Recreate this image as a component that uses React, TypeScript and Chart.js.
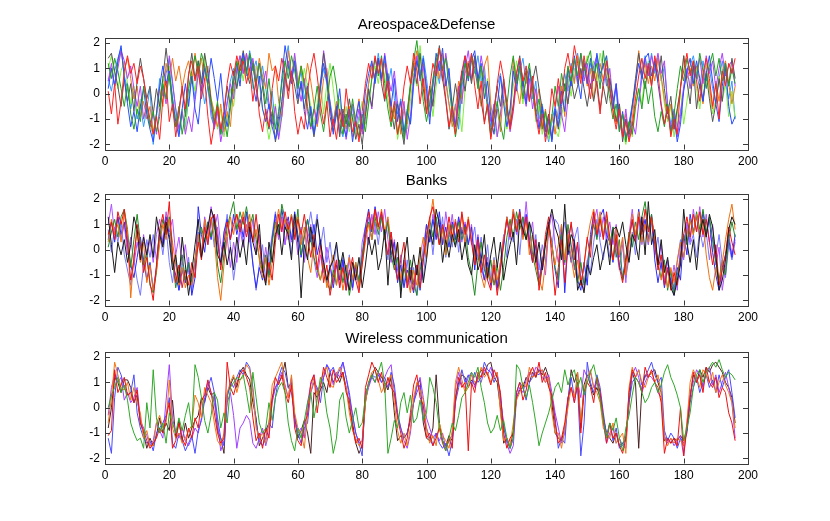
import React, { useEffect, useRef } from "react";
import { Chart, registerables } from "chart.js";

Chart.register(...registerables);

// axis ticks (same for all three panels)
const xTicks = [0, 20, 40, 60, 80, 100, 120, 140, 160, 180, 200];
const yTicks = [-2, -1, 0, 1, 2];

// ---------- Areospace&Defense (x = 1..196) ----------
const aeroRed = [
  0.1, -0.8, 0.4, -1.2, -0.3, 0.9, 1.5, 0.8, 1.2, 0.4, 1.1, 0.6, -0.3, -1.0,
  -1.6, -0.9, -1.8, -0.2, 0.5, -1.1, -0.4, -1.7, -0.8, 0.3, -0.6, 0.8, 1.3, 0.5,
  1.1, -0.2, 0.6, -0.9, -2.0, -1.2, -0.5, -1.4, -0.7, 0.4, 1.2, 0.7, 1.5, 0.9,
  1.3, 0.4, 1.0, -0.3, 0.6, -0.8, -1.5, -0.6, -1.3, 0.2, 1.1, 0.5, 1.4, 0.8,
  -0.2, 0.9, -0.7, -1.6, -0.9, -1.4, 0.1, 1.0, 1.6, 0.7, -0.4, -1.2, -0.3, -1.7,
  -1.0, -1.8, -0.6, -1.3, 0.2, -0.8, -1.5, -1.1, -1.9, -0.7, 0.4, 1.2, 0.6, 1.5,
  0.8, 1.4, -0.2, 0.5, -1.1, -0.3, -1.6, -0.9, 0.3, 1.1, 0.4, 1.6, 0.9, -0.4,
  0.6, -0.8, 0.2, 1.2, 0.7, 1.8, 1.0, -0.2, -1.3, -0.5, -1.6, 0.1, 0.9, 1.5,
  0.7, 1.6, 0.3, -0.6, 0.5, -1.2, -0.4, -1.8, -0.9, 0.4, 1.3, 0.6, -0.5, -1.4,
  -0.6, 0.8, 1.4, 0.5, 1.1, -0.3, 0.7, -0.9, -1.6, -0.8, -1.9, -1.1, 0.2, -0.5,
  0.6, -0.4, 1.0, 1.6, 0.8, 1.9, 1.2, 0.4, 1.5, 0.7, -0.2, 0.9, 0.3, -0.8,
  0.5, 1.3, 0.2, -0.7, -1.4, -0.6, -1.7, -1.1, -1.9, -1.3, -0.2, 0.7, 1.4, 0.6,
  1.2, 0.3, 1.5, 0.8, -0.4, -1.2, -0.5, -1.7, -1.0, -1.6, 0.3, 0.9, 1.6, 0.7,
  1.3, 0.5, -0.3, 0.8, 1.4, 0.6, -0.5, 0.4, -1.0, 0.9, 0.3, 1.2, 0.8, 1.4,
];
const aeroGreen = [
  1.2, 0.6, 1.4, 0.9, 0.2, -0.5, 0.4, -0.8, -1.4, -0.6, -1.1, 0.3, -0.4, -1.3,
  -0.7, -1.5, -0.9, 0.4, -0.2, 0.8, -0.6, -1.3, -0.5, -1.6, -0.8, 0.2, 0.9, 1.5,
  0.8, 1.6, 1.1, 0.3, -0.4, -1.1, -0.3, -1.6, -0.9, -1.7, -0.6, 0.5, 1.3, 0.6,
  1.4, 0.8, 1.6, 1.1, 0.3, 1.2, 0.5, -0.4, 0.6, -0.6, -1.4, -0.7, 0.4, 1.3,
  0.6, 1.5, 0.9, 0.2, 1.1, 0.4, -0.5, -1.3, -0.6, 0.3, -0.8, -1.5, -0.4, 0.7,
  1.1, 0.3, -0.9, -1.6, -0.8, -1.3, -0.2, -1.1, -1.7, -0.8, -1.5, -0.4, 0.6, 1.4,
  0.7, 1.5, 0.4, -0.6, -1.3, -0.5, -1.6, -0.9, -1.8, -0.7, 0.4, 1.3, 2.1, 0.9,
  -0.3, -1.1, -0.4, 0.6, 1.3, 1.8, 0.9, 1.4, 0.3, -0.8, -1.7, -0.9, 0.5, 1.2,
  0.6, 1.5, 1.0, 0.2, 1.1, 0.4, -0.6, -1.7, -1.0, -0.3, -1.2, -1.8, -0.5, 0.7,
  1.5, 0.4, 1.1, -0.2, 0.6, 1.2, 0.1, -0.8, -0.2, -1.4, -0.7, -1.6, -0.9, 0.3,
  -0.5, 0.8, 0.1, 1.1, 0.5, 1.4, 0.7, 1.6, 0.9, 1.3, 1.7, 0.6, 1.2, 0.2,
  1.7, 0.6, -0.2, -1.0, -0.4, -1.5, -0.8, -1.9, -1.1, -1.6, -0.5, 0.2, -0.6, 0.5,
  -0.4, 0.3, -0.9, -1.5, -0.7, -1.3, -0.4, -1.6, -0.8, 0.2, 1.1, 0.5, 1.4, 0.8,
  1.3, 0.6, 1.6, 0.9, 0.2, 1.1, 1.6, 0.7, 1.4, 0.5, 1.2, 0.3, 1.0, 0.4,
];
const aeroBlue = [
  0.2, 1.0, 0.3, 1.3, 1.9, 0.6, -0.4, -1.3, -0.7, -1.5, -0.5, 0.2, -0.8, -1.4,
  -1.9, -0.8, 0.3, 1.1, 0.4, 0.9, -0.2, -1.1, -1.7, -0.6, 0.4, -0.5, 0.7, -0.6,
  -1.2, 0.2, 1.0, 0.4, 1.4, 0.6, -0.3, 0.8, -0.6, -1.3, -0.4, 0.5, 1.2, 0.3,
  1.6, 0.9, 1.5, 0.4, -0.3, 0.7, -0.6, -1.1, -0.4, -1.3, -1.8, -0.9, 0.6, 1.9,
  1.1, 0.4, 1.3, -0.2, 0.5, -0.7, -1.4, -0.5, -1.6, -0.8, 0.3, 1.2, 0.5, -0.4,
  -1.6, -0.8, 0.2, -1.2, -1.7, -0.6, -1.9, -1.0, -0.3, -1.4, 0.1, 0.8, 1.3, 0.4,
  1.4, 0.6, 1.5, 0.2, -0.5, 0.6, -1.1, -0.3, -1.6, -0.7, -1.2, 0.5, 1.3, 0.6,
  1.4, 0.2, -1.2, 0.4, 1.6, 0.9, 1.8, 0.3, 1.0, -0.6, -1.3, -0.4, 0.7, 1.5,
  0.5, 1.3, 1.7, 0.6, 1.2, -0.2, 0.5, -0.9, -1.6, -0.5, 0.7, -0.4, -1.3, -0.6,
  0.9, 0.1, 1.3, 0.5, -0.4, 1.0, 0.2, -0.7, -1.4, -0.5, -1.7, -1.0, -1.9, -0.6,
  -1.3, 0.1, -0.7, 1.0, 0.3, 1.5, 0.6, -0.2, 1.2, 0.4, 1.4, 0.5, 1.6, 0.8,
  1.1, 1.5, 0.2, -0.6, 0.4, -1.5, -0.7, -1.8, -1.2, -0.5, 0.4, 1.2, 0.6, 1.4,
  1.6, 0.7, 1.3, 0.4, -0.5, -1.2, -0.6, -1.5, -0.9, -1.9, -1.2, 0.1, 0.9, 1.4,
  0.4, 1.3, 0.6, -0.3, 0.8, 1.5, 0.5, -0.4, -1.1, 0.3, 1.2, -0.5, -1.2, -0.9,
];
const aeroGray = [
  1.4, 1.6, 0.9, 0.3, -0.5, 0.6, -0.3, 0.4, -0.7, 0.5, 1.4, 0.6, -0.2, 0.3,
  -0.8, 0.2, -0.5, 0.6, 1.8, 0.7, -0.4, -1.3, -0.6, 0.2, -0.9, 0.7, 1.6, 0.6,
  1.3, 0.4, 1.6, 0.8, -0.3, -1.2, -0.4, -1.5, -0.8, 0.3, -0.5, 0.9, 0.2, 1.0,
  1.7, 0.9, 0.4, 1.2, 0.2, -0.5, 0.3, -0.8, -1.4, -0.7, -1.9, -1.2, -0.3, 0.8,
  0.1, 0.9, 0.3, -0.4, 0.4, -0.6, 0.3, -0.9, -1.7, -0.8, 0.4, 1.6, 0.6, -0.9,
  -1.5, -0.5, -1.7, -0.6, -1.2, -0.2, -1.0, -1.8, -1.2, -2.0, -0.9, 0.2, -0.5, 0.7,
  1.4, 0.4, -0.3, 0.8, -0.6, -1.4, -0.4, -1.2, -2.0, -0.8, 0.3, 1.2, 0.4, 1.6,
  0.2, -0.8, 0.3, -0.5, 0.9, 1.9, 0.6, -0.3, -1.4, -0.6, 0.4, -0.4, 0.9, 0.1,
  1.2, 0.4, 1.5, 0.6, -0.3, -1.1, -0.4, -1.6, -0.6, 0.3, -0.5, 0.6, -0.4, -1.3,
  -0.4, 0.8, 1.5, 0.3, 0.9, -0.3, 0.5, 1.1, 0.2, -0.6, -1.5, -0.8, -1.8, -0.7,
  -1.4, -0.5, 0.4, -0.4, 0.6, -0.2, 0.3, 1.0, 0.2, -0.5, 0.4, -0.3, 0.5, -0.6,
  0.3, -0.4, 0.6, -0.2, -1.1, -0.4, -1.9, -1.0, -1.6, -0.5, 0.6, 1.6, 0.8, 0.2,
  1.1, 0.3, 1.3, 0.5, 1.5, 0.2, -0.8, -0.1, -1.4, -0.6, 0.2, 1.5, 0.5, -0.4,
  1.1, -0.6, 0.4, -0.3, 0.8, -0.2, -1.1, -0.4, 0.6, -0.3, 1.0, 0.3, 1.4, 0.6,
];
const aeroViolet = [
  0.5, 1.2, 0.3, 1.0, 1.7, 1.3, 0.6, 1.1, 0.2, -0.5, 0.3, -1.0, -0.4, -1.3,
  -0.8, -1.6, -0.6, 0.3, -0.4, 1.5, 0.5, -0.6, -1.4, -0.7, -1.6, -0.9, -1.5, -0.3,
  0.8, 0.1, 1.1, 0.3, -0.6, -1.4, -0.7, -1.9, -1.2, -0.4, 0.4, -0.2, 1.0, 1.5,
  0.8, 1.6, 0.9, 1.4, 0.5, 1.2, 0.3, 0.9, -0.4, -1.2, -0.5, -1.8, -0.9, 0.5,
  1.3, 0.6, 1.6, 0.4, -0.3, 0.6, -0.7, -1.4, -0.6, -1.2, 0.2, 1.7, 0.8, -0.6,
  -1.3, -0.6, -1.5, -0.8, -1.8, -1.0, -0.4, -1.3, -0.6, -1.6, -0.8, 0.1, -0.6, 0.8,
  1.3, 0.5, 1.6, 0.7, 0.1, 0.9, -0.4, -1.2, -0.3, -1.8, -0.9, 0.6, 1.5, 0.5,
  1.1, 0.2, -0.9, -0.2, 0.7, 1.3, 0.5, 1.6, 0.6, -0.5, -1.2, 0.3, -0.4, 1.0,
  1.7, 0.6, 1.3, 0.4, 1.5, 0.7, -0.3, -1.1, -0.4, -1.7, -0.8, 0.4, -0.5, -1.5,
  -0.7, 0.5, 1.1, 0.2, -0.5, 0.6, -0.6, 0.2, -1.3, -0.5, -1.4, -0.8, -1.8, -0.6,
  0.3, -0.8, -1.5, -0.2, 0.6, 1.3, 0.4, 1.6, 0.5, 1.2, 0.2, 1.1, 1.5, 0.6,
  1.2, 0.3, 1.0, -0.3, 0.4, -0.8, -1.6, -0.6, -1.8, -1.1, -1.6, -0.4, 0.6, 1.4,
  0.7, 1.5, 0.9, 1.6, 0.8, 1.3, -0.5, -1.4, -0.7, -1.7, -0.9, 0.3, 1.0, 0.2,
  1.2, 0.6, 1.4, 0.4, 1.5, 0.8, 1.3, 0.2, 1.0, 1.6, 0.7, 1.1, 1.3, 0.3,
];
const aeroOrange = [
  0.5, 1.0, 0.3, 1.2, 1.7, 0.9, 1.4, 0.6, -0.2, 0.3, -0.9, -0.3, -1.0, -0.5,
  -1.5, -0.8, 0.2, -0.5, 1.2, 0.6, 1.4, 0.5, 1.1, 0.2, 0.9, 1.3, 0.4, 1.6,
  0.7, 1.4, 0.5, 1.1, -0.2, -0.8, -1.3, -0.4, -1.5, -0.7, -1.3, 0.2, 0.9, 1.5,
  0.8, 1.6, 0.6, 1.3, 0.5, 1.4, 0.7, 0.2, 1.6, 0.9, 1.1, -0.3, -0.9, 0.4,
  1.7, 0.8, 1.3, 0.4, 1.1, 0.3, 1.2, 0.5, -0.4, -1.3, -0.5, 0.6, 1.0, -0.4,
  -1.2, -0.3, -1.6, -0.8, -1.4, -0.5, -1.7, -0.9, -0.2, -1.5, -0.5, 0.4, 1.1, 0.5,
  1.4, 0.6, 1.2, 0.2, -0.5, -1.0, -0.3, -1.6, -0.6, -1.2, 0.2, 1.0, 1.7, 0.8,
  1.2, -0.3, -0.9, 0.5, 1.4, 0.6, 1.6, 0.4, -0.4, -1.3, -0.6, 0.5, -0.2, 0.8,
  1.3, 0.5, 1.5, 0.3, -0.5, 1.1, 1.5, -0.4, -1.3, -0.6, -1.5, 0.4, -0.7, -1.4,
  1.4, 0.3, -0.4, 0.6, -0.2, 1.0, 0.3, -0.5, 0.2, -1.3, -0.6, -1.6, -0.8, -1.6,
  -0.6, 0.3, -0.9, 0.6, 1.1, 0.4, 1.5, 0.6, 1.2, 0.3, 1.0, -0.2, 0.8, 1.2,
  0.5, 1.3, 0.2, -0.6, -1.2, -0.5, -1.6, -0.8, -1.7, -1.0, 0.3, 1.7, 0.6, 1.2,
  0.4, 1.1, 0.5, 1.4, 0.7, -0.2, -1.0, -0.4, -1.4, -0.6, 0.2, 1.5, 0.6, 1.0,
  0.3, 1.1, 0.5, -0.4, 0.9, 0.3, -0.6, 0.5, -0.3, 0.9, 1.3, 0.4, -0.4, 0.3,
];
const aeroLime = [
  1.0, 1.5, 0.8, 0.2, 0.9, 1.3, 0.4, -0.4, 0.3, -0.8, -0.2, -1.0, -0.5, -1.3,
  -1.6, -0.9, -0.3, 0.7, -0.2, 1.1, -0.1, -0.9, -1.4, -0.6, -1.5, 0.2, 0.8, 0.1,
  1.0, 0.3, 1.5, 0.6, -0.2, -0.7, -1.4, -0.6, -1.7, -1.0, 0.2, -0.5, 0.7, 1.3,
  0.5, 1.4, 1.0, 0.2, 1.1, 0.4, -0.6, -1.0, -1.8, -1.1, -0.4, -1.5, -0.8, 0.3,
  1.2, 0.4, 1.5, 0.7, 0.2, 1.0, 0.3, -0.5, -1.2, -0.4, 0.5, -0.8, 0.4, 1.2,
  0.2, -0.9, -0.2, -1.3, -0.5, -1.5, -0.8, -1.6, -1.0, -0.3, -1.2, -0.4, 0.6, 1.1,
  0.4, 1.3, 0.7, -0.2, -1.1, -0.4, -1.8, -1.0, -0.5, -1.4, -0.3, 0.8, 0.3, 1.9,
  0.6, -0.6, 0.2, -0.9, 0.3, 1.2, 0.5, 1.5, 0.8, -0.3, -1.2, -0.5, -1.5, 0.2,
  1.2, 0.5, 1.4, 0.4, 0.9, -0.2, 0.6, -0.7, -1.2, -1.7, -0.8, -0.2, -1.4, -0.6,
  0.3, 1.3, 0.5, -0.4, 0.8, -0.3, 0.4, -1.1, -0.5, -1.6, -0.8, -1.8, -0.9, -1.4,
  -1.7, -0.9, -0.2, 0.6, -0.1, 1.0, 0.4, 1.4, 0.7, 1.5, 0.8, 1.3, 0.5, 1.6,
  1.0, 1.5, 0.6, -0.2, -1.0, -0.4, -1.5, -2.0, -1.1, -1.7, -0.6, 0.2, -0.4, 0.8,
  1.3, 0.5, 1.2, 1.5, 0.6, -0.4, -1.1, -0.5, -1.7, -0.8, 0.1, -1.2, -0.3, 0.6,
  1.0, 0.2, -0.6, 0.5, 1.2, 0.1, -0.8, -0.2, 0.7, -0.3, 0.4, -0.9, 0.1, -1.0,
];
const aeroSky = [
  0.6, 0.1, 0.9, 1.4, 1.8, 0.7, 0.2, -0.6, 0.1, -1.0, -0.4, -1.3, -0.6, 0.2,
  -2.0, -0.8, 0.6, -0.1, 0.8, 1.4, 0.4, -0.6, -1.6, -0.8, -1.3, -0.2, 0.7, -0.2,
  1.3, 0.5, -0.4, 0.3, -0.9, -1.3, -0.6, -1.6, -1.1, -0.3, 0.5, 1.0, 0.3, 1.2,
  1.5, 0.7, 1.7, 0.9, 1.3, 0.4, 1.1, 0.2, -0.6, 0.1, -1.3, -1.7, -0.4, 1.2,
  1.9, 0.6, 1.2, 0.3, 0.9, -0.2, 0.4, -0.8, -1.5, -0.7, 0.2, 1.0, 0.4, -0.3,
  -1.1, -0.4, -1.3, -1.7, -0.8, -1.3, -0.5, -1.6, -0.9, -1.5, -0.6, 0.4, 1.2, 0.5,
  1.6, 0.7, 1.3, 0.3, 1.0, -0.2, -0.8, -0.2, -1.5, -0.6, -1.2, 0.3, 1.4, 0.7,
  1.5, 0.6, -0.5, 0.3, 1.1, 0.4, 1.5, 0.6, -0.4, -1.1, -0.4, -1.4, 0.2, 1.3,
  0.6, 1.6, 0.8, 1.5, 0.5, 1.1, -0.3, -1.3, -0.6, 0.3, 0.8, -0.2, -0.9, -1.2,
  1.1, 0.3, 0.9, 1.4, 0.4, 0.9, -0.2, 0.5, -1.0, -0.4, -1.3, -1.9, -1.1, -0.5,
  -1.0, 0.2, 0.8, 0.1, 1.2, 0.5, 1.6, 0.7, 1.3, 0.4, 1.2, 0.6, 1.4, 0.7,
  0.3, 1.0, 0.5, -0.6, 0.3, -1.4, -0.8, -1.8, -1.2, -0.4, 0.3, -0.3, 0.9, 1.5,
  0.7, 1.6, 0.8, 1.4, 0.5, 1.1, -0.4, -1.2, -0.6, -1.3, -0.7, 0.2, 0.8, 1.1,
  1.5, 0.8, 0.2, 1.3, 0.5, 1.0, 0.2, -0.4, 0.6, 1.3, 0.4, -0.2, 0.5, -1.0,
];

// ---------- Banks ----------
const bankBlack = [
  1.3, 0.2, -0.9, 0.3, -0.2, 0.4, -0.5, 0.2, 1.3, 0.8, -0.4, 0.5, -0.2, 0.6,
  -0.3, 1.3, 0.6, 0.1, 1.1, 0.4, -0.8, -0.2, -1.3, 0.5, -0.6, -1.8, -0.9, 0.2,
  1.2, -0.3, 0.4, 0.9, 1.6, 1.2, -0.2, -0.5, 0.3, -0.6, 0.1, -0.8, 0.5, -0.3,
  0.4, -0.6, 0.9, 0.3, -0.2, 1.0, -0.8, -1.4, 0.3, -0.5, 0.6, 1.0, -0.2, 0.9,
  0.6, -0.4, 1.4, 0.3, -1.9, 0.2, -0.4, 0.9, 0.1, 1.2, 0.3, -0.5, -1.2, -0.7,
  -0.4, 0.3, -0.8, -0.1, -0.9, -1.6, -0.5, -1.2, -0.3, -1.5, -0.6, 0.5, -0.2, 0.4,
  -0.8, -0.3, 0.8, -1.4, 0.4, -0.6, 0.3, -1.9, -0.4, 0.5, -1.2, -0.2, -1.0, 0.1,
  -1.3, -0.4, 0.8, 0.2, 1.6, 1.0, -0.5, 0.4, -0.3, 0.6, 0.1, 0.8, -0.4, 0.3,
  -0.6, -1.0, 0.2, -0.8, -0.4, 0.6, -1.1, -0.2, 0.5, -0.7, 0.3, -1.2, -0.4, 0.2,
  0.7, -0.6, 1.2, 0.8, 0.4, 1.1, 0.6, -0.5, 0.3, -0.8, 0.2, 1.0, 1.6, 0.9,
  0.5, -0.4, 1.8, -0.2, 0.6, 0.3, -1.6, -1.2, -1.7, -0.6, -1.0, -0.3, 0.2, -0.8,
  -0.2, 0.4, -0.6, 0.8, 0.9, 0.5, 1.1, 0.2, -0.5, 0.6, 0.3, -0.4, 1.3, -0.2,
  1.9, 0.2, 0.8, -0.6, 0.4, -0.9, -0.3, -1.5, -1.8, -1.2, -0.6, 1.6, 0.3, -0.5,
  0.4, -0.8, 0.6, 1.2, 0.5, 1.4, 0.9, -0.2, -1.6, -1.2, -0.4, 0.8, 1.3, 1.0,
];
const bankRed = [
  0.6, 1.1, 0.4, 1.5, 1.0, 1.6, 0.3, -1.2, -0.4, 1.0, 0.2, -0.9, -0.3, -1.3,
  -2.0, -0.6, 0.8, 1.4, 0.6, 1.9, -0.2, -1.3, -0.6, -1.5, -0.8, -1.4, -0.5, -1.1,
  0.3, -0.4, 0.9, 0.2, 1.2, 1.4, 0.5, -0.8, 0.3, 1.1, 0.4, 1.0, 1.4, 0.7,
  1.3, 0.5, 1.1, 0.3, 1.4, 0.2, -0.7, -1.3, -0.5, -1.2, 0.3, 1.4, 0.7, 1.5,
  0.8, 1.3, 0.4, 1.2, 0.6, 1.4, 0.5, -0.3, 0.6, -0.8, 0.2, -1.3, -0.6, -1.8,
  -1.1, -0.4, -1.5, -0.7, -1.6, -0.9, -0.3, -1.2, -1.7, -0.6, 0.5, 1.5, 0.8, 1.6,
  0.9, 1.5, 0.6, -0.2, 0.7, -0.5, -1.2, -0.4, 0.3, -1.5, -0.8, -1.6, -0.6, -1.5,
  -0.4, 0.5, 1.3, 1.7, 0.9, 0.2, 1.0, 0.4, 1.3, 0.5, 1.1, 0.3, 1.5, 0.6,
  1.2, 0.3, -0.6, 0.4, -0.9, -0.2, -1.2, -1.6, -0.6, -1.8, -0.8, 0.3, 1.2, 0.5,
  1.4, 0.7, 1.5, 0.6, 1.3, 0.2, -0.5, 0.4, -1.6, -0.7, 0.6, 1.3, -0.4, -1.8,
  -0.7, 0.4, -1.3, 0.2, 1.1, -0.4, 0.3, -1.4, -0.6, 0.5, -0.3, 1.5, 0.6, 1.2,
  0.4, 1.5, 0.5, -0.4, 0.6, -0.7, -1.3, -0.5, 0.5, 1.2, 0.3, 1.3, 0.6, 1.6,
  0.7, 1.3, 0.2, -0.8, -0.2, -1.4, -0.7, -1.6, -0.9, -1.4, -0.3, 0.6, 1.3, 0.5,
  1.4, 0.7, 1.5, 0.6, 1.2, 0.3, -0.6, 0.2, -1.4, -0.8, -0.2, 0.9, 0.3, -0.2,
];
const bankOrange = [
  0.3, 1.2, 0.6, 1.0, 0.3, 1.5, 0.6, -1.9, -0.2, 0.7, -0.5, 0.3, -1.3, -0.6,
  -1.6, -0.8, 0.2, 1.0, 0.4, 1.2, 0.3, -0.6, -1.4, -0.7, -1.5, -1.0, -1.4, -0.4,
  0.6, -0.2, 1.2, 0.4, 1.3, 0.5, -1.1, -2.0, -0.6, 0.5, 1.3, 0.6, 1.4, 0.8,
  1.5, 0.7, 1.4, 0.3, 0.8, -0.4, -1.1, -0.3, -1.4, -0.5, 0.9, 1.6, 0.8, 1.2,
  0.4, 1.4, 0.6, 1.3, 0.2, 0.9, -0.3, -0.9, 0.3, -0.6, -1.2, -0.5, -1.5, -0.8,
  -0.2, -1.4, -0.6, -1.6, -0.9, -0.3, -1.2, -0.5, -1.5, -0.6, 0.3, 1.0, 0.4, 1.5,
  0.8, 1.6, 0.7, 1.3, 0.3, -0.4, 0.3, -1.2, -0.5, -1.1, -1.7, -0.8, -1.4, -0.3,
  0.5, -0.3, 1.1, 2.0, 0.9, 0.2, 0.8, -0.2, 1.0, 0.3, 1.2, 0.5, 1.4, 0.2,
  1.3, 0.4, -0.4, 0.3, -1.0, -1.5, -0.7, -1.3, -0.4, -1.2, -0.5, 0.4, 1.3, 0.6,
  1.6, 0.8, 1.4, 0.4, 1.2, -0.2, 0.6, -0.6, -1.1, -1.6, -0.5, 0.8, 0.2, -0.6,
  0.2, 1.0, -0.4, 0.6, -0.3, -1.1, -0.4, -1.4, -0.6, 0.4, 1.1, 1.6, 0.8, 1.5,
  0.6, 1.4, 0.3, -0.4, 0.9, -0.2, 0.5, -1.0, 0.2, 1.4, 0.6, 1.5, 0.3, 1.0,
  0.3, 1.2, 0.4, -0.5, -1.2, -0.6, -1.5, -0.7, -1.3, -0.4, 0.3, -0.3, 0.6, 1.2,
  0.6, 1.4, 0.5, 1.2, -0.2, -1.1, -1.6, -0.7, -1.4, -0.5, 0.4, 1.2, 1.8, 0.8,
];
const bankGreen = [
  0.1, 0.7, 1.2, 0.5, 1.3, 1.6, 0.8, -0.7, 0.4, 1.4, 0.3, -0.6, -0.1, -1.4,
  -1.7, -0.9, 0.5, 1.2, 0.6, 1.3, -0.4, -1.5, -0.8, -0.2, -1.2, -0.5, -1.3, -0.4,
  0.2, 0.9, 0.3, 1.1, 0.5, 1.2, -0.6, -1.3, -0.2, 0.9, 1.4, 1.9, 0.8, 1.5,
  1.0, 1.7, 0.9, 1.4, 0.4, -0.3, -0.9, -0.2, -1.1, 0.3, 1.1, 0.6, 1.8, 1.2,
  0.6, 1.4, 0.5, 1.6, -0.2, 0.6, 1.2, 0.4, -0.3, -0.8, -1.2, -0.6, -1.3, -1.6,
  -0.8, -1.4, -0.4, -1.3, -0.6, -1.8, -1.1, -0.5, -1.3, -0.2, 0.6, 1.1, 0.4, 1.3,
  0.6, 1.3, 0.4, 1.1, -0.2, -0.8, -0.3, -1.6, -0.7, -1.3, -0.4, -1.3, -1.8, -0.8,
  -0.3, 0.6, 1.2, 0.5, 1.3, 0.2, 0.9, -0.2, 0.6, 1.0, 0.2, 1.1, 0.4, 0.9,
  -0.3, -0.9, -1.8, -0.5, 0.3, -0.8, -1.2, -0.4, -1.4, -0.6, -1.6, -0.7, 0.5, 1.2,
  0.5, 1.5, 0.8, 1.3, 0.4, 1.1, -0.2, -0.8, -1.4, -0.6, 0.3, 1.0, 0.2, -0.7,
  -1.2, 0.6, -0.5, 1.0, 0.2, -0.6, -1.3, -0.5, -1.4, -0.7, 0.3, 1.0, 0.4, 1.3,
  0.5, 1.2, 0.2, 0.9, -0.3, 0.4, -1.2, -0.4, 0.7, 0.1, 1.1, 0.4, 1.3, 1.9,
  0.8, 1.4, 0.3, -0.6, -1.1, -0.4, -1.6, -0.8, -1.7, -1.0, -0.3, 0.6, 0.2, 1.2,
  0.6, 1.5, 0.8, 1.6, 0.7, 1.3, 0.4, -0.5, -1.2, -0.4, -1.0, 0.4, 1.1, 0.5,
];
const bankBlue = [
  0.4, 1.1, 0.3, 1.3, 0.6, 1.1, 0.2, -0.6, -1.1, -0.3, 0.5, -0.4, -1.2, -0.5,
  -1.6, -0.7, 0.8, 0.2, 1.3, 0.6, -0.5, -1.0, -1.6, -0.8, -1.3, -0.5, -1.8, -1.1,
  1.7, 0.6, -0.1, 1.1, 0.4, 1.4, 0.3, -0.6, 0.7, 1.2, 0.4, 1.4, 0.6, 1.2,
  0.5, 1.5, 0.8, -0.6, -1.5, -0.7, -1.2, -0.3, -1.0, 0.4, 1.4, 0.6, 1.6, 0.8,
  1.3, 0.4, 1.5, 0.6, -0.3, 0.5, 1.2, 0.3, 1.0, -0.2, 0.4, -0.7, -1.3, -0.6,
  -1.5, -0.6, -1.2, -0.4, -1.6, -0.8, -1.5, -0.6, -1.3, -0.3, 0.9, 1.6, 0.7, 1.7,
  0.9, 1.4, 0.5, 1.2, -0.2, 0.3, -1.3, -0.6, -1.5, -0.8, -1.2, -1.7, -0.6, -1.6,
  -0.4, 1.0, 0.3, 1.2, 0.4, 1.5, 0.2, 0.9, 0.1, 1.1, 0.4, 1.3, 0.6, 1.0,
  0.2, 0.9, -0.8, 0.5, -0.4, -1.2, -0.5, -1.4, -0.6, -1.5, -0.7, 0.2, 1.3, 0.6,
  1.5, 0.7, 1.6, 0.5, 1.4, 0.3, -0.5, 0.2, -1.3, -0.5, 0.3, 1.1, 0.2, -0.8,
  -1.5, 1.0, -1.7, 0.3, -0.5, 0.4, -1.2, -1.6, -0.5, -1.4, 0.6, 1.4, 0.5, 1.3,
  1.6, 0.6, 0.3, -0.5, 0.4, -0.6, -1.1, -0.3, 0.5, 1.1, 0.4, 1.6, 0.7, 1.2,
  0.4, 1.4, -0.4, -1.3, -0.5, -1.5, -0.8, -1.2, -1.8, -0.7, -1.2, 0.6, -0.2, 1.4,
  0.7, 1.3, 0.5, 1.5, 0.6, 1.2, -0.1, -1.0, -1.6, -0.7, -0.2, 0.4, -0.3, 0.6,
];
const bankViolet = [
  1.0, 1.8, 0.6, 1.3, 0.4, 1.0, -0.2, 0.5, -0.6, 0.3, -0.4, 0.6, -0.3, 0.4,
  -0.5, 0.6, 1.2, 0.3, 1.5, 0.7, 1.2, -0.2, 0.5, -0.6, 0.2, -0.9, -1.4, -0.4,
  0.6, -0.2, 1.3, 0.6, 1.7, 0.8, 1.4, 0.2, -0.4, 0.5, -0.7, 0.3, -0.5, 0.8,
  0.1, 1.0, 0.3, 1.2, -0.2, 0.6, -0.8, 0.1, -0.9, 0.5, 1.2, 0.4, 1.3, 0.2,
  1.1, 0.3, 0.9, -0.2, 0.6, -0.5, 0.4, 1.0, -0.4, -1.1, -0.2, -0.9, 0.1, -0.6,
  -1.3, -0.4, -1.5, -0.5, -1.2, -0.3, -1.6, -0.6, -1.3, 0.3, 0.9, 0.2, 1.4, 0.6,
  1.5, 0.7, 1.6, 0.4, -0.5, 0.4, -0.8, -1.3, -0.4, -1.5, -0.7, -1.4, -0.6, -1.2,
  0.1, 1.0, 0.3, 1.4, 0.6, 1.2, 0.2, 1.5, 0.5, 1.4, 0.4, 1.2, 0.3, 1.1,
  0.2, 1.0, -0.3, 0.6, -0.7, -1.2, -0.3, -1.5, -0.7, -1.6, -0.5, 0.4, 1.2, 0.4,
  1.6, 0.6, 1.4, 0.5, 1.9, 0.4, 1.1, -0.4, -1.2, -0.3, -1.0, 0.8, 1.4, 0.2,
  -0.5, 0.7, -0.6, 0.8, 0.1, -0.8, 0.2, -1.1, -1.6, -0.5, 0.3, 1.1, 1.6, 0.5,
  1.3, 0.4, 1.1, 0.2, 1.0, -0.3, 0.4, -1.3, 0.6, 1.6, 0.5, 1.3, 0.2, 1.1,
  0.2, 1.3, 0.4, -0.5, 0.2, -1.3, -0.4, -1.4, -0.6, -1.6, 0.2, -0.4, 1.1, 0.3,
  1.6, 0.7, 1.7, 0.5, 1.4, 0.3, 1.0, -0.6, 0.1, -1.6, -0.7, 0.6, -0.2, 0.4,
];
const bankSlate = [
  0.8, -0.1, 0.9, 0.3, 1.1, -0.2, -0.8, -1.4, -0.4, -1.2, -1.8, -0.6, 0.4, -0.3,
  0.6, -0.4, 0.7, -0.2, 0.9, -0.5, -1.3, -0.3, -1.6, -0.5, -1.3, -0.3, -1.7, -0.4,
  0.7, -0.3, 1.0, 0.2, 1.2, 0.1, 0.9, -0.6, 0.5, 1.4, 0.2, -1.2, -0.2, 1.0,
  0.3, 1.4, 0.4, -0.5, -1.6, -0.6, 0.2, -1.2, -0.3, 0.6, 1.5, 0.5, 1.3, 0.2,
  1.0, -0.2, 1.1, 0.3, 0.9, -0.4, 0.7, 1.5, 0.6, 1.4, 0.1, 0.9, -0.5, 0.3,
  -0.8, 0.2, -1.1, -0.3, -1.4, -0.2, -1.5, -0.6, -1.6, -0.3, 0.6, 1.3, 0.4, 1.1,
  0.2, 1.3, 0.5, -0.4, 0.7, -0.5, -1.2, -0.2, -1.4, -0.4, -1.6, -0.7, -1.8, -0.5,
  -1.2, 0.3, 1.0, -0.2, 1.1, 0.2, 1.3, -0.3, 0.9, 0.1, 1.2, -0.1, 0.9, 0.2,
  1.1, 0.2, 0.9, -0.4, 0.5, -0.8, 0.2, -1.2, -0.3, -1.4, -0.5, 0.6, -0.3, 1.1,
  0.3, 1.2, -0.2, 1.3, 0.4, 1.0, -0.5, 0.6, -0.8, 0.2, -0.5, 0.9, 0.1, 1.2,
  1.0, 0.2, 1.1, 0.3, 1.0, 0.4, 0.9, -0.6, -1.3, -0.4, -0.9, 0.3, 1.2, 0.3,
  -0.4, 0.6, -0.3, 0.9, 0.1, -0.8, 0.2, -1.1, -0.3, 0.7, -0.2, 1.2, 0.3, 1.0,
  0.2, 1.1, -0.2, 0.5, -0.6, -1.2, -0.4, -1.0, -1.5, -0.5, 0.4, -0.3, 0.9, 0.2,
  0.6, -0.3, 0.8, 0.1, 0.7, -0.4, 0.5, -0.3, 0.6, -0.5, -1.1, 0.2, -0.4, 0.3,
];

// ---------- Wireless communication ----------
const wireGreen = [
  0.0, 0.5, 0.8, 1.2, 0.6, 0.9, 0.3, -0.6, -1.0, -1.3, -1.2, -1.6, 0.2, -0.8,
  1.5, -0.4, -1.0, -0.6, -1.4, -0.2, -0.6, -1.0, -0.4, -0.9, -0.3, 0.2, -0.8, 1.7,
  1.2, 0.4, -0.5, -1.0, -0.3, 0.6, 0.3, -0.8, -0.2, -0.6, 0.8, 1.0, 1.2, 1.1,
  1.3, 0.6, -0.2, 1.4, 0.4, -0.6, -1.0, -0.8, 0.2, -0.5, 0.4, 0.8, 1.0, 0.6,
  -0.6, -1.3, -1.7, -0.8, -1.2, -0.5, 0.2, 0.6, -0.4, 0.3, 1.2, 0.8, -0.2, -0.8,
  -1.8, -1.2, 0.3, 0.6, -0.4, -1.0, -0.5, 0.0, -0.8, -0.6, 0.4, 1.0, 1.3, 1.0,
  1.4, 1.8, 0.9, -1.8, -1.2, -0.5, -0.8, 0.2, 0.6, -0.2, 0.5, -0.6, -0.4, 0.3,
  -0.5, -0.2, 1.2, 0.8, 0.2, -0.8, -1.3, -1.7, -1.2, -0.6, -0.9, -0.3, 0.4, 0.6,
  1.0, 1.4, 1.2, 1.6, 0.8, 0.2, -0.6, -1.0, -0.8, -0.3, -0.9, -0.5, -1.2, -1.6,
  -1.2, 1.7, 1.5, 0.8, 0.4, 0.9, 0.2, -0.6, -1.5, -1.0, -0.6, -0.2, 0.3, 0.8,
  1.0, 0.6, 1.5, 0.9, 1.3, 1.5, 0.8, 1.2, 0.5, 1.0, 1.4, 1.7, 1.1, 0.3,
  -0.5, -1.2, -0.6, -0.9, -0.4, -1.2, -1.7, -0.8, -0.3, 0.5, 1.2, 1.0, 0.6, 0.2,
  0.4, 0.8, 1.0, 0.6, 0.9, 1.4, 1.7, 1.2, 0.9, 0.5, 0.0, -1.3, -0.8, -0.2,
  0.8, 1.3, 1.5, 1.0, 1.4, 1.6, 1.8, 1.6, 1.9, 1.5, 1.2, 1.4, 1.3, 1.1,
];
const wireRed = [
  -1.1, -0.9, 1.5, 0.6, 0.9, 1.2, 0.5, 0.6, 0.2, 0.7, -0.6, -0.9, -1.3, -1.6,
  -1.4, -1.2, -0.8, -1.0, -0.4, 0.2, -1.6, -1.3, -0.6, -1.2, -1.5, -0.8, -1.2, -0.4,
  -0.8, 0.3, 0.5, 1.1, 0.6, -0.2, -1.0, -1.4, -1.2, 1.8, 0.8, 0.5, 1.0, 1.3,
  1.5, 1.2, 0.8, -0.4, -1.3, -1.0, -1.6, -0.8, -1.2, 0.3, 1.2, 0.9, 1.3, 0.6,
  0.2, 0.9, -0.8, -1.3, -1.5, -0.6, -0.3, 1.0, 1.3, -0.2, 0.8, 1.6, 1.2, 0.8,
  1.5, 1.0, 1.2, 1.4, 0.6, 0.3, -0.8, -1.4, -1.2, -1.6, 0.8, 1.3, 1.8, 1.5,
  1.0, 1.4, 0.6, 1.2, 0.8, 0.6, -0.4, -1.0, -1.6, -1.2, -0.2, 0.9, 1.3, 0.4,
  0.1, -1.2, -1.0, -1.5, -1.2, -0.8, -1.4, -1.7, -1.2, -1.6, 0.3, 1.2, 0.8, 1.0,
  -1.7, 1.0, 0.6, 1.4, 1.2, 1.6, 1.3, 0.9, 1.5, 1.2, 0.6, -1.0, -1.6, -1.2,
  -1.0, 0.6, 1.0, 0.3, 0.7, 1.3, 1.6, 1.2, 1.8, 1.0, 1.4, 0.8, 0.5, -0.6,
  -1.4, -1.2, -0.6, 0.4, 0.8, 0.2, 1.0, -1.0, 0.6, 1.0, 0.8, 0.2, 1.2, 0.6,
  -0.4, -1.4, -0.6, -1.2, -1.0, -1.5, -1.8, -1.2, 0.6, 1.5, 1.2, 1.0, 0.6, 1.6,
  1.2, 1.5, 1.0, 0.8, 0.2, -1.8, -1.2, -1.4, -1.2, -1.5, 0.0, -1.9, -0.8, 0.4,
  1.4, 1.0, 1.3, 0.6, 1.6, 1.0, 0.8, 1.2, 0.4, 0.8, 0.6, -0.2, -0.6, -1.3,
];
const wireOrange = [
  -0.6, 0.4, 1.8, 1.3, 0.8, 0.7, 1.0, 0.3, 0.8, 0.2, -0.2, -1.2, -0.9, -1.5,
  -1.5, -0.6, -0.3, -0.8, -0.6, 1.1, -0.8, -1.2, -1.0, -1.4, -1.2, -0.9, -0.7, 0.5,
  0.2, -0.4, 0.8, 0.5, 0.2, -0.6, -1.3, -1.5, -1.0, 0.6, 1.0, 1.3, 0.6, 1.1,
  1.2, 1.7, 1.5, 0.6, -0.8, -1.2, -1.0, -1.4, -0.6, 0.9, 1.2, 1.5, 1.8, 0.8,
  0.4, 1.3, -0.2, -0.8, -1.0, -1.6, -0.2, 0.6, 1.2, 0.5, 1.0, 1.4, 1.6, 0.9,
  0.8, 1.3, 1.6, 1.2, 0.8, -0.2, -0.9, -1.2, -1.5, -1.3, 0.2, 1.0, 1.4, 1.5,
  1.1, 0.6, 0.9, 1.0, 1.3, 0.2, -0.9, -1.4, -1.0, -1.5, -0.8, 0.4, 1.0, 0.7,
  0.3, -0.8, -1.4, -1.1, -1.5, -0.6, -1.1, -1.3, -1.6, -0.9, 1.0, 1.6, 1.1, 0.6,
  0.8, 1.3, 1.0, 1.1, 1.6, 1.2, 1.4, 1.0, 1.2, 1.4, -0.2, -1.3, -1.2, -1.5,
  -0.6, 0.3, 0.6, 1.0, 0.8, 1.6, 1.2, 1.3, 1.4, 1.5, 1.0, 1.2, -0.2, -1.0,
  -1.0, -1.6, -0.8, 0.0, 0.8, 0.4, 1.4, -0.6, 0.6, 1.2, 1.5, 0.8, 0.6, 0.2,
  -0.8, -1.0, -1.2, -0.6, -1.4, -1.2, -1.0, -1.8, 0.8, 1.6, 1.2, 1.5, 1.0, 0.8,
  1.2, 1.4, 1.0, 1.3, 0.6, -1.2, -1.5, -1.2, -1.4, -1.2, -1.3, -1.5, -0.6, 1.0,
  1.5, 1.2, 0.8, 1.5, 1.3, 1.0, 1.4, 0.6, 1.0, 1.3, 0.9, 0.6, 0.2, -0.8,
];
const wireBlue = [
  -1.2, -1.8, 0.4, 1.6, 1.3, 0.8, 0.5, 0.6, 1.3, -0.2, -0.8, -1.2, -1.4, -1.3,
  -1.7, -1.0, -0.8, -0.6, -0.3, 0.4, -1.4, -1.6, -1.0, -1.3, -1.7, -1.4, -1.1, -1.8,
  -0.9, -0.5, 0.3, 0.8, 1.2, 0.6, -0.4, -1.2, -1.5, 0.4, 1.0, 0.8, 1.2, 1.5,
  1.3, 1.8, 1.6, 0.8, -0.6, -1.3, -1.5, -1.2, -0.6, -0.8, 0.4, 1.2, 1.6, 1.4,
  0.8, 0.6, -0.3, -1.0, -1.4, -0.8, -0.6, 0.6, 1.0, 0.8, 0.2, 1.2, 1.7, 1.4,
  1.6, 1.2, 1.5, 1.8, 1.2, 0.6, -0.3, -1.0, -1.4, -1.9, 0.6, 0.9, 1.3, 1.2,
  1.3, 1.0, 1.2, 0.8, 1.4, 0.9, -0.2, -0.8, -1.2, -1.0, -0.4, 0.2, 0.6, 0.9,
  -0.4, -0.8, -1.2, -1.5, -1.0, -1.4, -1.6, -1.4, -1.9, -1.3, 0.2, 0.8, 1.5, 1.0,
  1.3, 0.9, 1.4, 1.0, 1.2, 1.8, 1.5, 1.4, 1.0, 1.3, 0.5, -0.8, -1.3, -1.6,
  -1.2, 0.6, 1.0, 0.8, 0.3, 1.0, 1.2, 1.4, 1.3, 1.5, 1.2, 0.9, 0.4, -0.4,
  -1.6, -1.2, -1.4, 0.3, 1.2, 0.4, 0.8, -1.9, -0.6, 1.8, 1.0, 0.6, 1.3, 0.8,
  -0.2, -1.1, -0.6, -1.3, -0.8, -1.6, -1.4, -1.2, 0.2, 1.0, 1.2, 1.5, 0.9, 1.2,
  1.5, 1.8, 1.3, 1.0, 1.2, -0.9, -1.3, -1.0, -1.2, -1.6, -1.2, -1.4, -1.0, 0.2,
  0.8, 1.2, 0.6, 1.0, 1.3, 0.8, 1.1, 0.6, 1.3, 0.8, 1.2, 1.5, 0.6, -0.4,
];
const wireViolet = [
  -0.3, 0.8, 1.3, 1.0, 1.2, 0.3, 0.6, 0.2, 0.4, 0.8, -0.5, -0.8, -1.1, -1.5,
  -1.3, -0.6, -0.9, -1.2, 0.3, 1.7, -0.4, -1.0, -1.2, -0.8, -1.3, -1.5, -1.2, -0.8,
  -1.0, -0.4, 0.4, 1.0, 0.6, 0.2, -0.6, -1.7, -1.3, 0.2, 0.6, -0.3, -1.6, -0.8,
  -0.6, -0.3, -0.5, -1.4, -1.6, -1.2, -0.8, -1.5, -1.0, 0.2, 0.8, 1.1, 1.4, 0.9,
  0.4, 1.2, -0.6, -1.0, -0.8, -1.2, 0.2, 0.9, 1.3, 0.6, 0.9, 1.2, 1.7, 1.5,
  0.9, 1.4, 1.2, 1.8, 1.2, 0.4, -0.3, -1.0, -1.4, -1.3, 0.3, 0.8, 1.2, 1.0,
  1.4, 1.0, 1.2, 1.5, 1.7, 0.6, -0.3, -0.8, -1.3, -1.6, -1.0, 0.2, 0.8, 1.2,
  0.4, -0.4, -0.8, -1.2, -1.0, -1.3, -1.0, -1.6, -1.3, -1.1, 0.8, 1.4, 0.9, 0.8,
  1.2, 1.4, 0.8, 1.2, 1.0, 1.5, 1.3, 1.6, 1.2, 1.4, 0.3, -0.6, -1.4, -1.8,
  -1.5, 0.4, 0.8, 0.6, 1.1, 1.4, 1.2, 1.6, 1.5, 1.2, 1.0, 1.3, 0.6, -0.2,
  -0.8, -1.4, -1.0, 0.4, 0.8, 0.2, 1.0, 0.4, 1.5, 1.2, 1.4, 0.8, 1.0, 0.6,
  -0.6, -1.4, -1.0, -0.8, -1.4, -1.2, -1.5, -1.6, 0.6, 1.3, 1.6, 1.2, 0.6, 1.0,
  1.3, 1.2, 1.0, 0.6, 0.4, -1.1, -1.4, -1.2, -1.5, -1.3, -1.1, -1.9, -0.6, 0.6,
  1.0, 1.5, 1.3, 0.8, 1.4, 1.6, 0.9, 1.3, 0.6, 1.0, 1.4, 0.8, 0.2, -1.2,
];
const wireBrown = [
  -0.8, 0.0, 1.2, 1.0, 0.6, 1.1, 1.1, 0.8, 0.2, 0.5, -0.6, -1.0, -1.6, -1.2,
  -1.5, -1.1, -0.4, -1.0, -0.6, -0.9, 0.3, -1.2, -0.5, -1.3, -0.6, -1.2, -0.8, -0.5,
  -0.3, 0.4, 0.2, 0.8, 0.5, 0.6, -0.9, -1.2, -1.8, 0.5, 0.9, 1.2, 0.8, 1.4,
  1.6, 1.3, 1.1, 0.2, -0.4, -1.5, -1.2, -0.9, -0.6, 0.4, 0.8, 1.0, 1.2, 1.8,
  0.8, 1.0, -0.4, -1.2, -0.9, -0.5, -1.0, -1.8, 0.6, 0.4, 0.7, 1.0, 0.6, 1.4,
  1.0, 1.3, 1.0, 1.4, 0.8, 0.0, -0.6, -1.4, -1.8, -1.5, 0.2, 1.0, 1.2, 1.6,
  1.4, 1.2, 1.0, 0.7, 1.2, -0.2, -1.3, -1.1, -1.2, -1.0, -0.5, 0.2, 0.9, 1.1,
  -0.6, -1.2, -1.3, -0.8, 1.3, -0.6, -1.3, -1.5, -1.1, -1.3, 0.4, 1.0, 1.3, 1.2,
  0.8, 1.1, 0.9, 1.2, 1.5, 1.3, 1.7, 1.8, 1.2, 1.0, 0.0, -1.4, -1.2, -1.6,
  -0.9, 0.4, 0.7, 0.8, 1.2, 1.0, 1.4, 1.2, 1.5, 1.3, 1.6, 1.2, 0.2, -1.0,
  -1.2, -1.3, -0.8, 0.2, 1.5, 1.0, 1.4, -0.8, 0.9, 1.3, 0.9, 0.5, 0.8, 0.4,
  -0.4, -1.0, -1.2, -1.4, -1.0, -1.5, -1.4, -1.3, 0.2, 1.4, 1.0, -1.6, 0.8, 1.3,
  1.2, 1.4, 1.5, 1.0, 0.6, -1.3, -1.2, -1.4, -1.2, -1.3, -1.1, -1.3, -0.9, 0.4,
  1.3, 1.0, 1.5, 1.2, 1.6, 1.4, 1.7, 1.8, 1.6, 1.4, 1.0, 0.8, 0.4, -0.6,
];

type Series = { label: string; color: string; values: number[] };

const aeroSeries: Series[] = [
  { label: "s1", color: "#ff2020", values: aeroRed },
  { label: "s2", color: "#22a022", values: aeroGreen },
  { label: "s3", color: "#2a4cff", values: aeroBlue },
  { label: "s4", color: "#555555", values: aeroGray },
  { label: "s5", color: "#b040ff", values: aeroViolet },
  { label: "s6", color: "#f07818", values: aeroOrange },
  { label: "s7", color: "#80ee40", values: aeroLime },
  { label: "s8", color: "#3399ff", values: aeroSky },
];
const bankSeries: Series[] = [
  { label: "s1", color: "#1a1a1a", values: bankBlack },
  { label: "s2", color: "#ee1111", values: bankRed },
  { label: "s3", color: "#f07010", values: bankOrange },
  { label: "s4", color: "#228a22", values: bankGreen },
  { label: "s5", color: "#2a2aff", values: bankBlue },
  { label: "s6", color: "#b050ff", values: bankViolet },
  { label: "s7", color: "#7777ff", values: bankSlate },
];
const wireSeries: Series[] = [
  { label: "s1", color: "#30a828", values: wireGreen },
  { label: "s2", color: "#ee1111", values: wireRed },
  { label: "s3", color: "#f07818", values: wireOrange },
  { label: "s4", color: "#4a4aff", values: wireBlue },
  { label: "s5", color: "#a040ff", values: wireViolet },
  { label: "s6", color: "#4a2020", values: wireBrown },
];

const FONT = "'Liberation Sans', Arial, Helvetica, sans-serif";

// MATLAB-like box with inward tick marks, plus a title centred over the axes
const boxTicks = {
  id: "boxTicks",
  afterDatasetsDraw(chart: any, _args: any, opts: any) {
    const { ctx, chartArea: a, scales } = chart;
    const len = 5;
    ctx.save();
    ctx.strokeStyle = "#3a3a3a";
    ctx.lineWidth = 1;
    ctx.beginPath();
    xTicks.forEach((v) => {
      const px = Math.round(scales.x.getPixelForValue(v)) + 0.5;
      ctx.moveTo(px, a.bottom);
      ctx.lineTo(px, a.bottom - len);
      ctx.moveTo(px, a.top);
      ctx.lineTo(px, a.top + len);
    });
    yTicks.forEach((v) => {
      const py = Math.round(scales.y.getPixelForValue(v)) + 0.5;
      ctx.moveTo(a.left, py);
      ctx.lineTo(a.left + len, py);
      ctx.moveTo(a.right, py);
      ctx.lineTo(a.right - len, py);
    });
    ctx.stroke();
    ctx.strokeRect(
      Math.round(a.left) + 0.5,
      Math.round(a.top) + 0.5,
      Math.round(a.right - a.left),
      Math.round(a.bottom - a.top)
    );
    ctx.fillStyle = "#000";
    ctx.font = `15px ${FONT}`;
    ctx.textAlign = "center";
    ctx.textBaseline = "alphabetic";
    ctx.fillText(opts.text, (a.left + a.right) / 2, a.top - 9.5);
    ctx.restore();
  },
};

const Panel: React.FC<{ title: string; series: Series[]; top: number }> = ({ title, series, top }) => {
  const canvasRef = useRef<HTMLCanvasElement | null>(null);
  const chartRef = useRef<Chart | null>(null);

  useEffect(() => {
    if (!canvasRef.current) return;
    if (chartRef.current) chartRef.current.destroy();

    chartRef.current = new Chart(canvasRef.current, {
      type: "line",
      data: {
        datasets: series.map((s) => ({
          label: s.label,
          data: s.values.map((y, i) => ({ x: i + 1, y })),
          borderColor: s.color,
          borderWidth: 1,
          pointRadius: 0,
          tension: 0,
          fill: false,
        })),
      },
      options: {
        responsive: false,
        animation: false,
        layout: { padding: { left: 0, right: 82, top: 38, bottom: 0 } },
        plugins: {
          legend: { display: false },
          tooltip: { enabled: false },
          title: { display: false },
          boxTicks: { text: title },
        } as any,
        scales: {
          x: {
            type: "linear",
            min: 0,
            max: 200,
            afterBuildTicks: (scale: any) => {
              scale.ticks = xTicks.map((v) => ({ value: v }));
            },
            afterFit: (scale: any) => {
              scale.height = 20.5;
            },
            grid: { display: false, drawTicks: false },
            border: { display: false },
            ticks: { color: "#000", font: { family: FONT, size: 12 }, padding: 5, maxRotation: 0 },
          },
          y: {
            type: "linear",
            min: -2.2,
            max: 2.2,
            afterBuildTicks: (scale: any) => {
              scale.ticks = yTicks.map((v) => ({ value: v }));
            },
            afterFit: (scale: any) => {
              scale.width = 105;
            },
            grid: { display: false, drawTicks: false },
            border: { display: false },
            ticks: { color: "#000", font: { family: FONT, size: 12 }, padding: 5 },
          },
        },
      },
      plugins: [boxTicks],
    });

    return () => {
      if (chartRef.current) {
        chartRef.current.destroy();
        chartRef.current = null;
      }
    };
  }, [title, series]);

  return (
    <canvas
      ref={canvasRef}
      width={830}
      height={170}
      style={{ position: "absolute", left: 0, top, width: 830, height: 170 }}
    />
  );
};

const App: React.FC = () => {
  return (
    <div style={{ position: "absolute", left: 0, top: 0, width: 830, height: 521, background: "#fff" }}>
      <Panel title="Areospace&Defense" series={aeroSeries} top={0} />
      <Panel title="Banks" series={bankSeries} top={156} />
      <Panel title="Wireless communication" series={wireSeries} top={314} />
    </div>
  );
};

export default App;
